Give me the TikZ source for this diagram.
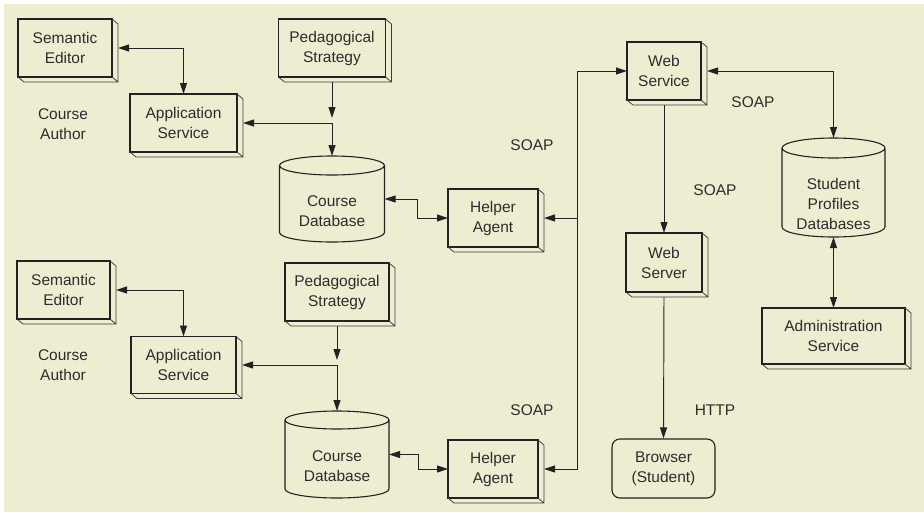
\documentclass[tikz,border=0pt]{standalone}
\usepackage{fontspec}
\setmainfont{Liberation Sans}
\usetikzlibrary{arrows.meta,calc}
\definecolor{paper}{HTML}{EFEDD1}
\definecolor{ink}{HTML}{222222}
\definecolor{rim}{HTML}{3A3A3A}
\definecolor{txt}{HTML}{2C2C2C}

% bevelled right/bottom edge of a service box
\newcommand\bevel[1]{%
  \draw[rimline] (#1.north east) -- ++(6,-5) -- ([shift={(6,-5)}]#1.south east)
    -- ([shift={(6,-5)}]#1.south west) -- (#1.south west)
    (#1.south east) -- ++(6,-5);}

% database cylinder drawn over the extent of a named node
\newcommand\dbdraw[2]{%
  \draw[edgeline, fill=paper] let \p1=(#1.north west), \p2=(#1.south east),
      \n1={(\x2-\x1)/2} in
    (\x1,\y1-#2) -- (\x1,\y2+#2)
      arc[start angle=180, end angle=360, x radius=\n1, y radius=#2]
      -- (\x2,\y1-#2)
      arc[start angle=0, end angle=180, x radius=\n1, y radius=#2] -- cycle
    (\x1,\y1-#2) arc[start angle=180, end angle=360, x radius=\n1, y radius=#2];}

\begin{document}
\begin{tikzpicture}[x=1pt, y=1pt,
  lbl/.style={font=\fontsize{15.5}{20}\selectfont, text=txt, align=center, inner sep=0pt},
  edgeline/.style={draw=ink, line width=1.1pt},
  rimline/.style={draw=rim, line width=0.75pt},
  box/.style 2 args={lbl, edgeline, fill=paper, outer sep=0pt,
    minimum width=#1, minimum height=#2},
  dbarea/.style 2 args={inner sep=0pt, outer sep=0pt, minimum width=#1, minimum height=#2},
  conn/.style={draw=ink, line width=0.95pt},
  >={Triangle[length=11pt, width=7pt]}]

\useasboundingbox (0,0) rectangle (924,-512);
\fill[white] (0,0) rectangle (924,-512);
\fill[paper] (4,-4) rectangle (924,-512);

% ---------- first course site ----------
\node[box={94}{58}]  (se1) at (65,-48)    {Semantic\\Editor};
\node[box={107}{58}] (ps1) at (332,-48)   {Pedagogical\\Strategy};
\node[box={107}{58}] (as1) at (183.5,-123) {Application\\Service};
\node[lbl]           (au1) at (63,-124)   {Course\\Author};
\node[dbarea={105}{86}] (cd1) at (332,-199) {};
\node[box={90}{58}]  (ha1) at (493,-218)  {Helper\\Agent};

% ---------- second course site ----------
\node[box={93}{58}]  (se2) at (63.5,-290) {Semantic\\Editor};
\node[box={104}{58}] (ps2) at (337,-292)  {Pedagogical\\Strategy};
\node[box={105}{57}] (as2) at (183.5,-365) {Application\\Service};
\node[lbl]           (au2) at (63,-365)   {Course\\Author};
\node[dbarea={104}{87}] (cd2) at (337,-454.5) {};
\node[box={90}{58}]  (ha2) at (493,-469)  {Helper\\Agent};

% ---------- central services ----------
\node[box={74}{58}]  (ws)  at (664,-71)    {Web\\Service};
\node[box={76}{59}]  (wv)  at (664,-262.5) {Web\\Server};
\node[lbl, edgeline, fill=paper, rounded corners=8pt, minimum width=103,
      minimum height=59] (br) at (663.5,-468.5) {Browser\\(Student)};
\node[dbarea={103}{99}] (spd) at (833.5,-187.5) {};
\node[box={143}{56}] (adm) at (833.5,-336) {Administration\\Service};

\foreach \n in {se1,ps1,as1,ha1,se2,ps2,as2,ha2,ws,wv,adm} {\bevel{\n}}

\dbdraw{cd1}{9.5pt}
\dbdraw{cd2}{9pt}
\dbdraw{spd}{10pt}
\node[lbl] (cd1t) at ([yshift=-12]cd1.center)   {Course\\Database};
\node[lbl] (cd2t) at ([yshift=-11.5]cd2.center) {Course\\Database};
\node[lbl] (spdt) at ([yshift=-16]spd.center)   {Student\\Profiles\\Databases};

% ---------- protocol labels ----------
\node[lbl] (soapa) at (753,-102) {SOAP};
\node[lbl] (soapb) at (532,-145) {SOAP};
\node[lbl] (soapc) at (715,-190) {SOAP};
\node[lbl] (soapd) at (532,-410) {SOAP};
\node[lbl] (http)  at (715,-410) {HTTP};

% ---------- connectors, first site ----------
\coordinate (j1) at (332,-123);
\draw[conn,<->] ([xshift=6]se1.east) -| (as1.north);
\draw[conn,->,shorten >=5pt] ([yshift=-5]ps1.south) -- (j1);
\draw[conn,->] (j1) -- ([xshift=6]as1.east);
\draw[conn,->] (j1) -- (cd1.north);
\draw[conn,<->] (cd1.east) -- ++(33,0) |- (ha1.west);

% ---------- connectors, second site ----------
\coordinate (j2) at (337,-365);
\draw[conn,<->] ([xshift=6]se2.east) -| (as2.north);
\draw[conn,->,shorten >=5pt] ([yshift=-5]ps2.south) -- (j2);
\draw[conn,->] (j2) -- ([xshift=6]as2.east);
\draw[conn,->] (j2) -- (cd2.north);
\draw[conn,<->] (cd2.east) -- ++(29,0) |- (ha2.west);

% ---------- SOAP bus to the web service ----------
\coordinate (s1) at (577,-218);
\coordinate (s2) at (577,-469);
\coordinate (s3) at (577,-71);
\draw[conn,->] (s1) -- ([xshift=6]ha1.east);
\draw[conn,<->] ([xshift=6]ha2.east) -- (s2) -- (s3) -- (ws.west);

% ---------- central connectors ----------
\draw[conn,<->] ([xshift=6]ws.east) -| (spd.north);
\draw[conn,->] ([yshift=-5]ws.south) -- (wv.north);
\draw[conn,->] ([yshift=-5]wv.south) -- (br.north);
\draw[conn,<->] (spd.south) -- (adm.north);
\end{tikzpicture}
\end{document}
